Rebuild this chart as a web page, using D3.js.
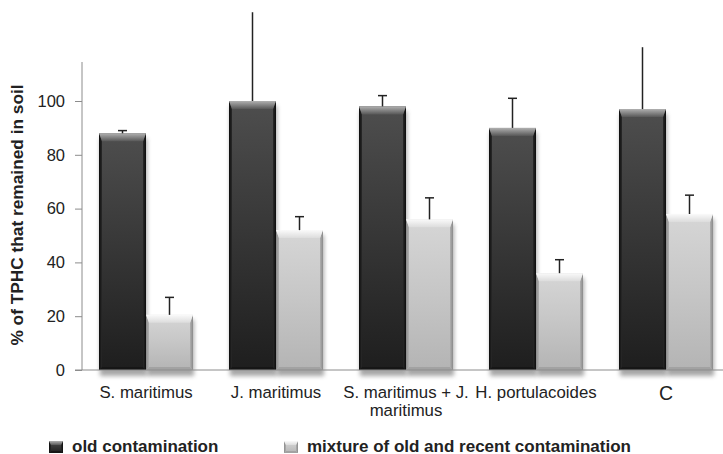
<!DOCTYPE html>
<html>
<head>
<meta charset="utf-8">
<script src="https://cdn.jsdelivr.net/npm/d3@7"></script>
<style>
  html, body { margin: 0; padding: 0; background: #fff; }
  svg { display: block; font-family: "Liberation Sans", Arial, Helvetica, sans-serif; }
</style>
</head>
<body>
<svg id="chart" width="723" height="454"></svg>
<script>
// Plant treatments on the x axis
const categories = ["S. maritimus", "J. maritimus", "S. maritimus + J. maritimus", "H. portulacoides", "C"];
// Series names
const seriesNames = ["old contamination", "mixture of old and recent contamination"];
// % of TPHC remaining, per series
const oldValues = [88, 100, 98, 90, 97];
const mixValues = [20.5, 52, 56, 36, 58];
// Upper end of each error bar
const oldErrTop = [89, 133, 102, 101, 120];
const mixErrTop = [27, 57, 64, 41, 65];
// Whether the error bar ends in a cap
const oldCapped = [true, false, true, true, false];
const mixCapped = [true, true, true, true, true];
// Y axis ticks
const yTicks = [0, 20, 40, 60, 80, 100];

const svg = d3.select("#chart");
const defs = svg.append("defs");

const x = d3.scaleBand().domain(categories).range([81, 731])
  .paddingInner(36 / 130).paddingOuter(18 / 130);
const xSub = d3.scaleBand().domain([0, 1]).range([0, x.bandwidth()]);
const y = d3.scaleLinear().domain([0, 114.5]).range([370, 62]);

// Gradients for the bevelled bar faces
function vGrad(id, stops) {
  const g = defs.append("linearGradient").attr("id", id)
    .attr("x1", 0).attr("y1", 0).attr("x2", 0).attr("y2", 1);
  stops.forEach(([o, c]) => g.append("stop").attr("offset", o).attr("stop-color", c));
}
function hGrad(id, stops) {
  const g = defs.append("linearGradient").attr("id", id)
    .attr("x1", 0).attr("y1", 0).attr("x2", 1).attr("y2", 0);
  stops.forEach(([o, c]) => g.append("stop").attr("offset", o).attr("stop-color", c));
}
vGrad("darkBody", [[0, "#4e4e4e"], [0.5, "#363636"], [1, "#1e1e1e"]]);
vGrad("darkTop", [[0, "#b0b0b0"], [1, "#585858"]]);
hGrad("darkSideL", [[0, "#0c0c0c"], [1, "#2a2a2a"]]);
hGrad("darkSideR", [[0, "#2a2a2a"], [1, "#0c0c0c"]]);
vGrad("lightBody", [[0, "#d6d6d6"], [0.5, "#c6c6c6"], [1, "#b4b4b4"]]);
vGrad("lightTop", [[0, "#fafafa"], [1, "#dcdcdc"]]);
hGrad("lightSideL", [[0, "#8a8a8a"], [1, "#b0b0b0"]]);
hGrad("lightSideR", [[0, "#b0b0b0"], [1, "#8a8a8a"]]);

const blur = defs.append("filter").attr("id", "shadow")
  .attr("x", "-30%").attr("y", "-30%").attr("width", "160%").attr("height", "160%");
blur.append("feGaussianBlur").attr("stdDeviation", 2);

const styles = [
  { body: "url(#darkBody)", top: "url(#darkTop)", sideL: "url(#darkSideL)", sideR: "url(#darkSideR)", bottom: "#161616" },
  { body: "url(#lightBody)", top: "url(#lightTop)", sideL: "url(#lightSideL)", sideR: "url(#lightSideR)", bottom: "#a2a2a2" }
];

// Draws one bevelled box into a group
function bevelBox(g, bx, by, w, h, st, b, side) {
  g.append("rect").attr("x", bx).attr("y", by).attr("width", w).attr("height", h)
    .attr("fill", st.body);
  const pts = a => a.map(p => p.join(",")).join(" ");
  g.append("polygon").attr("points", pts([[bx, by + h], [bx + w, by + h], [bx + w - side, by + h - side], [bx + side, by + h - side]]))
    .attr("fill", st.bottom);
  g.append("polygon").attr("points", pts([[bx, by], [bx + side, by + b], [bx + side, by + h - side], [bx, by + h]]))
    .attr("fill", st.sideL);
  g.append("polygon").attr("points", pts([[bx + w, by], [bx + w - side, by + b], [bx + w - side, by + h - side], [bx + w, by + h]]))
    .attr("fill", st.sideR);
  g.append("polygon").attr("points", pts([[bx, by], [bx + w, by], [bx + w - side, by + b], [bx + side, by + b]]))
    .attr("fill", st.top);
}

// Axes
const axisColor = "#8c8c8c";
const yAxis = svg.append("g").attr("transform", "translate(82,0)")
  .call(d3.axisLeft(y).tickValues(yTicks).tickSize(7).tickPadding(10).tickFormat(d3.format("d")));
yAxis.select(".domain").attr("stroke", axisColor).attr("d", `M0,${y(0)}V${y.range()[1]}`);
yAxis.selectAll(".tick line").attr("stroke", axisColor);
yAxis.selectAll(".tick text").attr("fill", "#222").style("font-size", "16.5px")
  .style("font-family", "'Liberation Sans', Arial, sans-serif");

// Bars
const seriesVals = [oldValues, mixValues];
const seriesErr = [oldErrTop, mixErrTop];
const seriesCap = [oldCapped, mixCapped];

const groups = svg.append("g").selectAll("g").data(categories).join("g")
  .attr("transform", d => `translate(${x(d)},0)`);

// soft shadow under each bar
groups.each(function (d, i) {
  const g = d3.select(this);
  [0, 1].forEach(s => {
    const v = seriesVals[s][i];
    g.append("rect")
      .attr("x", xSub(s) + 1).attr("width", xSub.bandwidth())
      .attr("y", y(v) + 5).attr("height", y(0) - y(v) + 1)
      .attr("fill", "#8a8a8a").attr("opacity", 0.75).attr("filter", "url(#shadow)");
  });
});

svg.append("line").attr("x1", 75).attr("x2", 723).attr("y1", y(0)).attr("y2", y(0))
  .attr("stroke", axisColor).attr("stroke-width", 1);

groups.each(function (d, i) {
  const g = d3.select(this);
  [0, 1].forEach(s => {
    const v = seriesVals[s][i];
    const bx = xSub(s), w = xSub.bandwidth();
    const top = y(v), h = y(0) - y(v);
    bevelBox(g.append("g"), bx, top, w, h, styles[s], 8, 3);
  });
});

// Error bars (upper only)
groups.each(function (d, i) {
  const g = d3.select(this);
  [0, 1].forEach(s => {
    const cx = xSub(s) + xSub.bandwidth() / 2;
    const y0 = y(seriesVals[s][i]), y1 = y(seriesErr[s][i]);
    g.append("line").attr("x1", cx).attr("x2", cx).attr("y1", y0).attr("y2", y1)
      .attr("stroke", "#222").attr("stroke-width", 1.5);
    if (seriesCap[s][i]) {
      g.append("line").attr("x1", cx - 4.5).attr("x2", cx + 4.5).attr("y1", y1).attr("y2", y1)
        .attr("stroke", "#222").attr("stroke-width", 1.5);
    }
  });
});

// Category labels, wrapped to the band step
const labels = svg.append("g").selectAll("text").data(categories).join("text")
  .attr("x", d => x(d) + x.bandwidth() / 2)
  .attr("y", (d, i) => i === categories.length - 1 ? 400 : 398)
  .attr("text-anchor", "middle").attr("fill", "#222")
  .style("font-size", (d, i) => i === categories.length - 1 ? "19.5px" : "16.8px");

labels.each(function (d) {
  const t = d3.select(this);
  const words = d.split(" ");
  let line = [];
  let tspan = t.append("tspan").attr("x", t.attr("x")).attr("dy", 0);
  words.forEach(wd => {
    line.push(wd);
    tspan.text(line.join(" "));
    if (tspan.node().getComputedTextLength() > x.step() && line.length > 1) {
      line.pop();
      tspan.text(line.join(" "));
      line = [wd];
      tspan = t.append("tspan").attr("x", t.attr("x")).attr("dy", "1.1em").text(wd);
    }
  });
});

// Y axis title
svg.append("text")
  .attr("transform", "translate(23,215) rotate(-90)")
  .attr("text-anchor", "middle").attr("fill", "#222")
  .style("font-size", "17.3px").style("font-weight", "bold")
  .text("% of TPHC that remained in soil");

// Legend
const legendX = [49, 284];
const legend = svg.append("g").selectAll("g").data(seriesNames).join("g")
  .attr("transform", (d, i) => `translate(${legendX[i]},441)`);
legend.each(function (d, i) {
  bevelBox(d3.select(this), 0, 0, 14, 12, styles[i], 4, 2);
});
legend.append("text").attr("x", 23).attr("y", 10.5)
  .attr("fill", "#222").style("font-size", "17px").style("font-weight", "bold")
  .text(d => d);
</script>
</body>
</html>
